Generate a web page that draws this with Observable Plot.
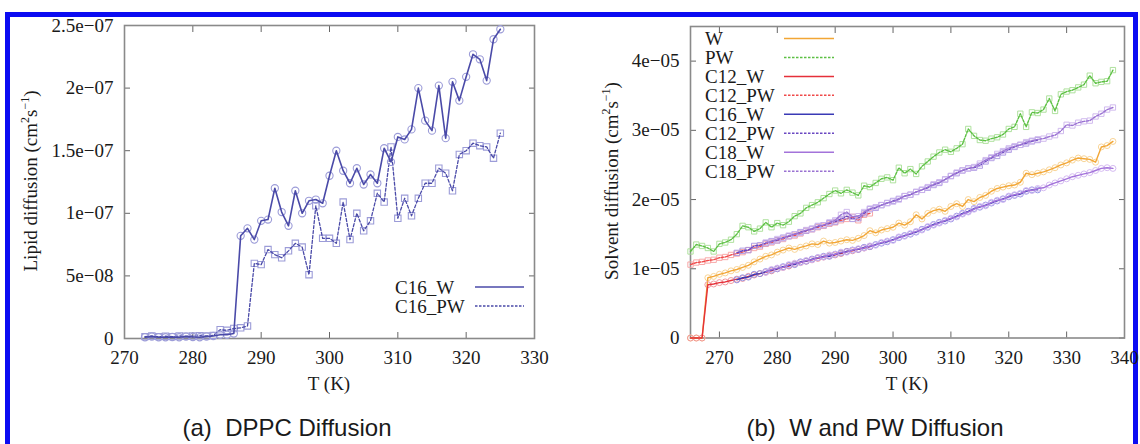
<!DOCTYPE html>
<html><head><meta charset="utf-8">
<script src="https://cdn.jsdelivr.net/npm/d3@7"></script>
<script src="https://cdn.jsdelivr.net/npm/@observablehq/plot@0.6"></script>
<style>
body{margin:0;background:#fff;}
#wrap{position:relative;width:1140px;height:444px;overflow:hidden;font-family:"Liberation Serif",serif;color:#1a1a1a;background:#fff;}
.frameBorder{position:absolute;left:5px;top:12px;width:1123px;height:430px;border-top:5px solid #0b0bf2;border-left:5px solid #0b0bf2;border-right:5px solid #0b0bf2;border-bottom:2px solid #c8c8ee;box-sizing:content-box;}
.plot{position:absolute;top:0;}
.lab{position:absolute;white-space:nowrap;font-size:19px;transform:translate(-50%,-50%);}
.ylab{transform:translate(-50%,-50%) rotate(-90deg);}
.cap{position:absolute;white-space:nowrap;font-family:"Liberation Sans",Arial,sans-serif;font-size:24px;transform:translate(-50%,-50%);color:#1a1a1a;}
sup{font-size:12px;vertical-align:8px;line-height:0;}
#legend{position:absolute;left:0;top:0;}
</style>
</head><body>
<div id="wrap">
  <div class="frameBorder"></div>
  <div id="pa" class="plot" style="left:0px"></div>
  <div id="pb" class="plot" style="left:570px"></div>
  <div class="lab ylab" style="left:31px;top:181px">Lipid diffusion (cm<sup>2</sup>s<sup>−1</sup>)</div>
  <div class="lab ylab" style="left:612px;top:181px">Solvent diffusion (cm<sup>2</sup>s<sup>−1</sup>)</div>
  <div class="lab" style="left:329px;top:384px">T (K)</div>
  <div class="lab" style="left:907px;top:384px">T (K)</div>
  <div class="cap" style="left:287px;top:428px">(a)&nbsp; DPPC Diffusion</div>
  <div class="cap" style="left:875px;top:428px">(b)&nbsp; W and PW Diffusion</div>
</div>
<script>
// ---------- Panel (a): DPPC lipid diffusion, values in 1e-8 cm^2/s ----------
const lipidT = [273,274,275,276,277,278,279,280,281,282,283,284,285,286,287,288,289,290,291,292,293,294,295,296,297,298,299,300,301,302,303,304,305,306,307,308,309,310,311,312,313,314,315,316,317,318,319,320,321,322,323,324,325];
const lipidC16W = [0.10,0.15,0.10,0.10,0.12,0.10,0.15,0.12,0.10,0.15,0.20,0.30,0.30,0.40,8.2,8.8,7.9,9.4,9.5,12.0,10.1,9.0,11.8,10.0,11.0,11.1,10.8,13.0,15.0,13.4,12.4,13.6,12.3,13.1,12.4,15.2,14.1,16.1,15.9,16.7,20.0,17.4,16.6,20.2,16.0,20.5,19.0,20.9,22.7,22.3,20.6,23.9,24.7];
const lipidC16PW = [0.15,0.20,0.15,0.18,0.15,0.20,0.18,0.20,0.22,0.20,0.25,0.70,0.65,0.80,0.85,1.0,6.0,5.9,7.1,6.7,6.45,7.0,7.6,7.3,5.1,10.6,8.0,8.0,7.6,10.9,7.9,10.0,8.6,9.4,11.6,10.9,15.3,9.6,11.2,9.8,11.2,12.4,12.4,13.6,13.2,11.8,14.7,15.0,15.6,15.4,15.3,14.4,16.4];
const lipidUnit = 1e-8;
const xTicksA = [270,280,290,300,310,320,330];
const yTicksA = [0,5e-8,1e-7,1.5e-7,2e-7,2.5e-7];
const yTickLabelsA = ["0","5e−08","1e−07","1.5e−07","2e−07","2.5e−07"];
const legendA = ["C16_W","C16_PW"];

// ---------- Panel (b): solvent diffusion, values in 1e-5 cm^2/s ----------
const solventUnit = 1e-5;
const tW = 265;
const W = [0,0,0,0.87,0.89,0.92,0.94,0.97,0.99,1.02,1.05,1.10,1.14,1.18,1.20,1.24,1.27,1.30,1.28,1.31,1.33,1.36,1.35,1.40,1.37,1.38,1.40,1.42,1.41,1.44,1.48,1.55,1.52,1.56,1.58,1.60,1.66,1.63,1.68,1.78,1.72,1.80,1.84,1.86,1.83,1.90,1.94,1.90,2.00,1.97,2.03,2.06,2.12,2.16,2.18,2.20,2.21,2.25,2.38,2.36,2.38,2.40,2.43,2.46,2.50,2.53,2.57,2.60,2.59,2.58,2.54,2.76,2.78,2.84];
const tPW = 265;
const PW = [1.25,1.35,1.33,1.30,1.25,1.36,1.38,1.42,1.50,1.62,1.60,1.54,1.58,1.67,1.60,1.66,1.63,1.68,1.76,1.80,1.88,1.92,1.96,2.02,2.08,2.13,2.09,2.14,2.10,2.06,2.20,2.18,2.24,2.30,2.32,2.28,2.46,2.38,2.44,2.37,2.48,2.55,2.62,2.68,2.72,2.69,2.74,2.80,3.02,2.92,2.86,2.85,2.88,2.90,2.94,3.02,3.05,3.24,3.05,3.26,3.25,3.30,3.46,3.28,3.52,3.56,3.58,3.62,3.66,3.79,3.68,3.70,3.71,3.87];
const tC12W = 265;
const C12W = [0,0,0,0.77,0.78,0.80,0.81,0.83,0.85,0.86,0.89,0.91,0.93,0.95,0.97,1.00,1.02,1.04,1.07,1.09,1.11,1.13,1.15,1.17,1.19,1.20,1.22,1.25,1.26,1.28,1.30,1.32];
const tC12PW = 265;
const C12PW = [1.06,1.09,1.10,1.12,1.13,1.16,1.17,1.20,1.22,1.24,1.27,1.30,1.32,1.36,1.38,1.41,1.43,1.47,1.48,1.51,1.55,1.57,1.60,1.62,1.65,1.67,1.70,1.72,1.75,1.70,1.78,1.80];
const tC16W = 273;
const C16W = [0.84,0.87,0.88,0.92,0.93,0.96,0.98,1.00,1.03,1.05,1.06,1.10,1.11,1.14,1.16,1.18,1.18,1.21,1.23,1.25,1.27,1.28,1.31,1.32,1.35,1.37,1.39,1.42,1.45,1.48,1.50,1.53,1.57,1.60,1.64,1.67,1.69,1.72,1.76,1.80,1.83,1.87,1.89,1.92,1.95,1.98,2.01,2.04,2.06,2.08,2.12,2.14,2.14];
const tC16PW = 273;
const C16PW = [1.23,1.26,1.27,1.33,1.34,1.37,1.40,1.41,1.45,1.47,1.50,1.53,1.55,1.58,1.61,1.63,1.66,1.68,1.72,1.76,1.72,1.73,1.80,1.86,1.88,1.92,1.95,1.98,2.01,2.05,2.07,2.11,2.14,2.17,2.21,2.24,2.29,2.34,2.38,2.42,2.45,2.46,2.49,2.55,2.60,2.63,2.68,2.72,2.76,2.79,2.81,2.84,2.86];
const tC18W = 278;
const C18W = [0.95,0.99,1.01,1.02,1.06,1.08,1.09,1.12,1.13,1.16,1.17,1.20,1.21,1.24,1.24,1.27,1.29,1.30,1.33,1.34,1.38,1.40,1.41,1.46,1.47,1.51,1.54,1.56,1.61,1.63,1.66,1.70,1.73,1.75,1.79,1.82,1.86,1.90,1.91,1.96,1.99,2.00,2.05,2.07,2.09,2.13,2.13,2.16,2.17,2.21,2.24,2.27,2.30,2.33,2.35,2.37,2.39,2.42,2.45,2.46,2.45];
const tC18PW = 278;
const C18PW = [1.38,1.39,1.43,1.44,1.48,1.50,1.52,1.56,1.57,1.62,1.63,1.67,1.70,1.78,1.82,1.75,1.76,1.82,1.87,1.89,1.92,1.95,1.97,2.00,2.05,2.07,2.11,2.14,2.18,2.22,2.25,2.29,2.34,2.39,2.42,2.45,2.47,2.52,2.57,2.61,2.66,2.70,2.74,2.77,2.79,2.83,2.85,2.87,2.88,2.91,2.93,2.99,3.08,3.07,3.11,3.13,3.14,3.20,3.24,3.30,3.33];
const xTicksB = [270,280,290,300,310,320,330,340];
const yTicksB = [0,1e-5,2e-5,3e-5,4e-5];
const yTickLabelsB = ["0","1e−05","2e−05","3e−05","4e−05"];
const legendB = ["W","PW","C12_W","C12_PW","C16_W","C12_PW","C18_W","C18_PW"];
const colorsB = ["#f2a635","#5cc043","#e5303a","#ef4a4a","#3a3ab6","#6a48c2","#a373da","#9a72d2"];
const markColorsB = ["#f7cf8c","#a6de93","#f19096","#f7a0a0","#8c8ce2","#aa96e2","#d0b4f0","#ccb4ec"];
const dashedB = [false,true,false,true,false,true,false,true];

const seriesBValues = [W,PW,C12W,C12PW,C16W,C16PW,C18W,C18PW];
const seriesBStart = [tW,tPW,tC12W,tC12PW,tC16W,tC16PW,tC18W,tC18PW];

// ---------- build tables ----------
const rowsA = [lipidC16W, lipidC16PW].map(vals => vals.map((v,i)=>({T: lipidT[i], v: v*lipidUnit})));
const rowsB = seriesBValues.map((vals,k)=>vals.map((v,i)=>({T: seriesBStart[k]+i, v: v*solventUnit})));

const axisStyle = {stroke:"#666"};
const fmt = (ticks, labels) => d => labels[ticks.indexOf(d)];

function axes(xt, yt, ylabels){
  return [
    Plot.axisX({ticks: xt, tickSize: -6, tickPadding: 18, tickFormat: d=>String(d), label: null, ...axisStyle}),
    Plot.axisX({anchor:"top", ticks: xt, tickSize: -6, tickFormat: ()=>"", label: null, ...axisStyle}),
    Plot.axisY({ticks: yt, tickSize: -6, tickPadding: 17, tickFormat: fmt(yt, ylabels), label: null, ...axisStyle}),
    Plot.axisY({anchor:"right", ticks: yt, tickSize: -6, tickFormat: ()=>"", label: null, ...axisStyle}),
    Plot.frame({stroke:"#8a8a8a", strokeWidth: 1.6})
  ];
}

const lineA = "#4a4aa8", markA = "#9c9cd8";
const plotA = Plot.plot({
  width: 560, height: 400,
  marginLeft: 124, marginRight: 26, marginTop: 25, marginBottom: 62,
  style: {fontFamily: "Liberation Serif, serif", fontSize: "19px", color: "#1a1a1a", background: "transparent", overflow: "visible"},
  x: {domain: [270, 330]},
  y: {domain: [0, 2.5e-7]},
  marks: [
    ...axes(xTicksA, yTicksA, yTickLabelsA),
    Plot.dot(rowsA[1], {x:"T", y:"v", symbol:"square", r:3.6, stroke: markA, fill:"none", strokeWidth:1.1}),
    Plot.line(rowsA[1], {x:"T", y:"v", stroke: lineA, strokeWidth:1.3, strokeDasharray:"3,2"}),
    Plot.dot(rowsA[0], {x:"T", y:"v", symbol:"circle", r:3.6, stroke: markA, fill:"none", strokeWidth:1.1}),
    Plot.line(rowsA[0], {x:"T", y:"v", stroke: lineA, strokeWidth:1.6})
  ]
});
document.getElementById("pa").appendChild(plotA);

const marksB = [];
rowsB.forEach((rows,k)=>{
  marksB.push(Plot.dot(rows, {x:"T", y:"v", symbol: dashedB[k] ? "square" : "circle", r: 3, stroke: markColorsB[k], fill:"none", strokeWidth: 1, strokeOpacity: 0.9}));
  marksB.push(Plot.line(rows, {x:"T", y:"v", stroke: colorsB[k], strokeWidth: 1.4, strokeDasharray: dashedB[k] ? "2.5,1.5" : null}));
});
const plotB = Plot.plot({
  width: 570, height: 400,
  marginLeft: 120, marginRight: 16, marginTop: 26, marginBottom: 62.5,
  style: {fontFamily: "Liberation Serif, serif", fontSize: "19px", color: "#1a1a1a", background: "transparent", overflow: "visible"},
  x: {domain: [265, 340]},
  y: {domain: [0, 4.5e-5]},
  marks: [
    ...axes(xTicksB, yTicksB, yTickLabelsB),
    ...marksB
  ]
});
document.getElementById("pb").appendChild(plotB);

// ---------- legends (overlay) ----------
const ns = "http://www.w3.org/2000/svg";
const svg = document.createElementNS(ns, "svg");
svg.setAttribute("id","legend"); svg.setAttribute("width",1140); svg.setAttribute("height",444);
svg.style.position="absolute"; svg.style.left="0"; svg.style.top="0";
svg.style.fontFamily="Liberation Serif, serif"; svg.style.fontSize="19px";
function legendRow(label, x0, y, lx1, lx2, color, dashed, width){
  const t = document.createElementNS(ns,"text");
  t.setAttribute("x", x0); t.setAttribute("y", y); t.setAttribute("dominant-baseline","central");
  t.setAttribute("fill","#1a1a1a"); t.textContent = label; svg.appendChild(t);
  const l = document.createElementNS(ns,"line");
  l.setAttribute("x1",lx1); l.setAttribute("x2",lx2); l.setAttribute("y1",y); l.setAttribute("y2",y);
  l.setAttribute("stroke",color); l.setAttribute("stroke-width",width);
  if (dashed) l.setAttribute("stroke-dasharray","2.5,1.5");
  svg.appendChild(l);
}
legendA.forEach((name,i)=>legendRow(name, 395, 287 + i*19, 475, 524, lineA, i===1, i===1?1.3:1.6));
legendB.forEach((name,i)=>legendRow(name, 705, 38.5 + i*18.95, 784, 834, colorsB[i], dashedB[i], 1.5));
document.getElementById("wrap").appendChild(svg);
</script>
</body></html>
